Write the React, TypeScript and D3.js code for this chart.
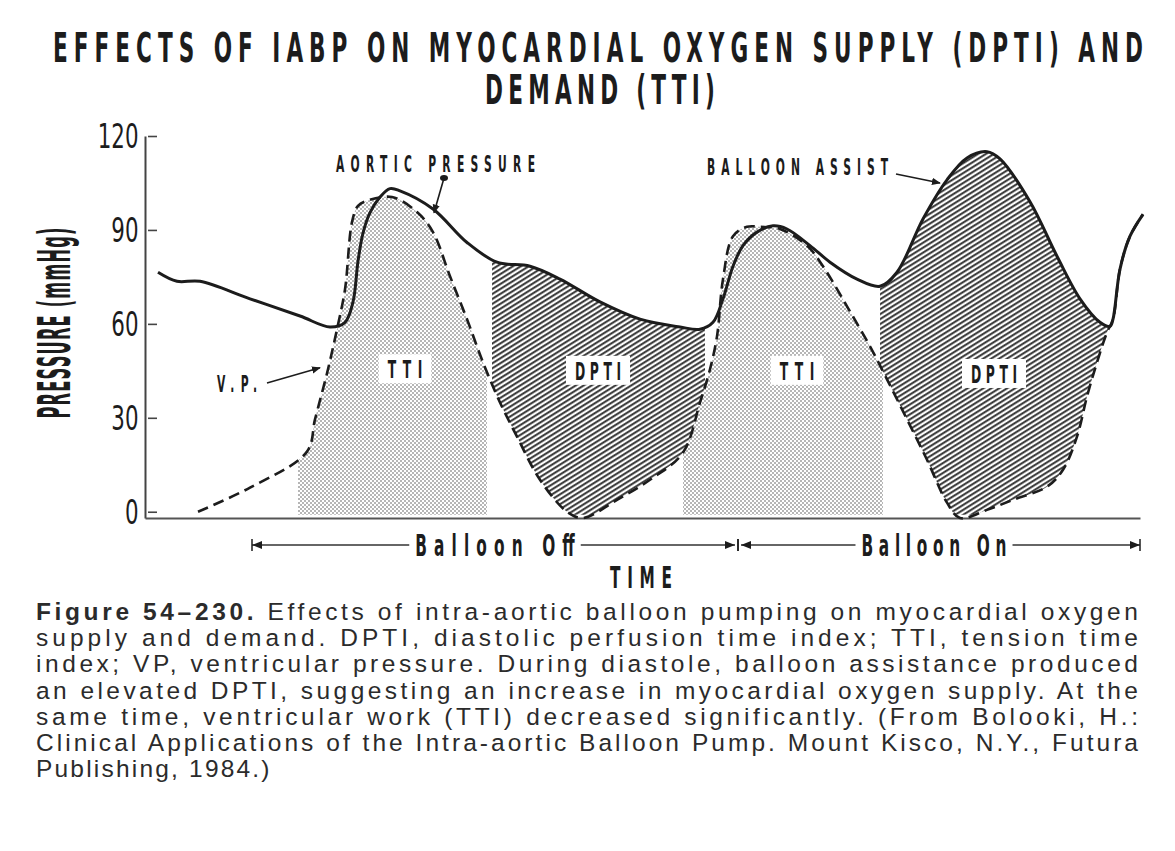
import * as d3 from 'd3';
import { useEffect, useRef } from 'react';

// time in arbitrary units across the trace, pressure in mmHg
const aorticPressure: [number, number][] = [
    [1.3, 76.5], [3.2, 73.6], [5.5, 73.6], [10.5, 68], [15.5, 62.5], [18.5, 59], [20.0, 60.5],
    [20.8, 67], [21.3, 80], [21.8, 89], [22.5, 95.5], [23.5, 100.5], [24.5, 103.2], [25.5, 102.5],
    [28.8, 96.7], [32.2, 86], [35.2, 79.7], [38.5, 78.4], [41.5, 74.3], [45.5, 67], [49.5, 61.5],
    [53.5, 59], [55.5, 58.3], [56.8, 60.5], [57.8, 68], [58.8, 78.4], [59.8, 85], [61.2, 89.3],
    [62.8, 91.3], [64.2, 90.3], [66.5, 85], [68.5, 79.7], [71.2, 74.3], [73.5, 72], [75.2, 76.5],
    [77.8, 93.5], [80.2, 106], [82.2, 113], [84.2, 115], [85.5, 112.7], [88.5, 99], [91.2, 81.6],
    [93.5, 68], [95.5, 60.5], [96.5, 59.2], [96.8, 61.5], [97.5, 77.5], [98.5, 88], [99.8, 95]
];

const ventricularPressure: [number, number][] = [
    [5.3, 0], [10.5, 7.7], [16.2, 19.2], [17.0, 29.5], [18.3, 45.5], [19.2, 58.3], [20.0, 71],
    [20.7, 92.5], [21.3, 97.7], [22.2, 99.3], [24.7, 100.5], [27.2, 95.7], [28.8, 89.3], [30.5, 75.2],
    [32.2, 61.5], [33.8, 47.7], [35.5, 34.9], [37.2, 24], [39.5, 10.2], [42.2, 0], [43.8, -2],
    [47.2, 3.8], [50.5, 10.2], [53.8, 18.9], [55.5, 34.9], [56.5, 45.5], [57.2, 56], [57.8, 74.3],
    [58.8, 88], [60.2, 91], [61.5, 91], [63.5, 90.3], [66.2, 85], [67.8, 78.4], [70.2, 65.6],
    [72.5, 52.8], [74.2, 42.3], [76.2, 29.5], [78.2, 16.6], [80.2, 2.9], [81.5, -2], [84.2, 0.6],
    [86.8, 3.8], [90.2, 8], [91.8, 13.4], [93.2, 24], [94.2, 36.8], [95.2, 47.7], [96.2, 57.3],
    [96.8, 61.5], [97.5, 77.5], [98.5, 88], [99.8, 95]
];

// shaded intervals [start, end]
const ttiSpans: [number, number][] = [[15.3, 34.2], [53.8, 73.8]];
const dptiSpans: [number, number][] = [[34.7, 56.0], [73.5, 96.8]];

const regionLabels = [
    { text: 'TTI', t: 26.0, p: 45.5 },
    { text: 'DPTI', t: 45.3, p: 45 },
    { text: 'TTI', t: 65.2, p: 45 },
    { text: 'DPTI', t: 84.9, p: 44 }
];

const periods = [
    { label: 'Balloon Off', start: 10.7, end: 59.3 },
    { label: 'Balloon On', start: 59.3, end: 99.5 }
];

const pressureTicks = [0, 30, 60, 90, 120];

const titleLines = ['EFFECTS OF IABP ON MYOCARDIAL OXYGEN SUPPLY (DPTI) AND', 'DEMAND (TTI)'];

const captionLines = [
    'Effects of intra-aortic balloon pumping on myocardial oxygen',
    'supply and demand. DPTI, diastolic perfusion time index; TTI, tension time',
    'index; VP, ventricular pressure. During diastole, balloon assistance produced',
    'an elevated DPTI, suggesting an increase in myocardial oxygen supply. At the',
    'same time, ventricular work (TTI) decreased significantly. (From Bolooki, H.:',
    'Clinical Applications of the Intra-aortic Balloon Pump. Mount Kisco, N.Y., Futura',
    'Publishing, 1984.)'
];

const INK = '#1c1c1c';
const COND = "'Liberation Sans Narrow','DejaVu Sans Condensed',sans-serif";

const Cond = ({ x, y, text, size, sx, width, anchor = 'start', weight = 'bold', rotate = 0 }: any) => (
    <text
        transform={`translate(${x},${y}) rotate(${rotate}) scale(${sx},1)`}
        fontSize={size}
        fontWeight={weight}
        fontFamily={COND}
        textAnchor={anchor}
        textLength={width ? width / sx : undefined}
        lengthAdjust="spacing"
        fill={INK}
    >{text}</text>
);

export default function App() {
    const yAxisRef = useRef<any>();
    const xAxisRef = useRef<any>();

    const width = 1175;
    const height = 851;

    const x = d3.scaleLinear().domain([0, 99.5]).range([145, 1140]);
    const y = d3.scaleLinear().domain([-2, 120]).range([518, 136]);

    const curve = d3.curveCatmullRom.alpha(0.5);
    const line = d3.line<[number, number]>().x(d => x(d[0])).y(d => y(d[1])).curve(curve);
    const areaUnder = d3.area<[number, number]>().x(d => x(d[0])).y0(y(-1)).y1(d => y(d[1])).curve(curve);
    const areaAbove = d3.area<[number, number]>().x(d => x(d[0])).y0(0).y1(d => y(d[1])).curve(curve);

    useEffect(() => {
        const ya = d3.select(yAxisRef.current);
        ya.call(d3.axisLeft(y).tickValues(pressureTicks).tickSize(-12).tickSizeOuter(0).tickPadding(9).tickFormat(d3.format('d')) as any);
        ya.select('.domain').attr('stroke', '#444').attr('stroke-width', 2);
        ya.selectAll('.tick line').attr('x1', 3).attr('stroke', '#444').attr('stroke-width', 1.6);
        ya.selectAll('.tick text')
            .attr('font-family', COND)
            .attr('font-size', 33)
            .attr('fill', INK)
            .attr('dy', '0.36em')
            .attr('transform', 'scale(0.72,1)');

        const xa = d3.select(xAxisRef.current);
        xa.call(d3.axisBottom(x).tickValues([]).tickSizeOuter(0) as any);
        xa.select('.domain').attr('stroke', '#555').attr('stroke-width', 2);
    }, []);

    const captionTop = 620;
    const captionStep = 26.2;

    return (
        <svg width={width} height={height} style={{ position: 'absolute', left: 0, top: 0, background: '#fff' }}>
            <defs>
                <pattern id="dots" width="4" height="4" patternUnits="userSpaceOnUse">
                    <rect width="4" height="4" fill="#fff" />
                    <circle cx="1" cy="1" r="0.8" fill="#5a5a5a" />
                    <circle cx="3" cy="3" r="0.8" fill="#5a5a5a" />
                </pattern>
                <pattern id="hatch" width="8" height="4.2" patternUnits="userSpaceOnUse" patternTransform="rotate(-32)">
                    <rect width="8" height="4.2" fill="#fff" />
                    <line x1="0" y1="2" x2="8" y2="2" stroke="#2a2a2a" strokeWidth="1.9" />
                </pattern>
                <clipPath id="above-vp"><path d={areaAbove(ventricularPressure) || ''} /></clipPath>
                {ttiSpans.map((s, i) => (
                    <clipPath id={`tti-${i}`} key={i}>
                        <rect x={x(s[0])} y={0} width={x(s[1]) - x(s[0])} height={height} />
                    </clipPath>
                ))}
                {dptiSpans.map((s, i) => (
                    <clipPath id={`dpti-${i}`} key={i}>
                        <rect x={x(s[0])} y={0} width={x(s[1]) - x(s[0])} height={height} />
                    </clipPath>
                ))}
                <marker id="arrow" viewBox="0 0 10 10" refX="9" refY="5" markerWidth="9" markerHeight="9" markerUnits="userSpaceOnUse" orient="auto">
                    <path d="M0,1 L10,5 L0,9 Z" fill={INK} />
                </marker>
            </defs>

            {/* title */}
            <Cond x={53} y={62} text={titleLines[0]} size={40} sx={0.6} width={1090} />
            <Cond x={485} y={104} text={titleLines[1]} size={40} sx={0.6} width={230} />

            {/* shaded regions */}
            {ttiSpans.map((s, i) => (
                <g key={'t' + i} clipPath={`url(#tti-${i})`}>
                    <path d={areaUnder(ventricularPressure) || ''} fill="url(#dots)" />
                </g>
            ))}
            {dptiSpans.map((s, i) => (
                <g key={'d' + i} clipPath={`url(#dpti-${i})`}>
                    <g clipPath="url(#above-vp)">
                        <path d={areaUnder(aorticPressure) || ''} fill="url(#hatch)" />
                    </g>
                </g>
            ))}

            {/* axes */}
            <g ref={yAxisRef} transform={`translate(${x(0)},0)`} />
            <g ref={xAxisRef} transform={`translate(0,${y(-2)})`} />

            {/* traces */}
            <path d={line(ventricularPressure) || ''} fill="none" stroke={INK} strokeWidth={2.6} strokeDasharray="11 6" />
            <path d={line(aorticPressure) || ''} fill="none" stroke={INK} strokeWidth={3} />

            {/* region labels */}
            {regionLabels.map((l, i) => {
                const w = l.text.length * 11.5;
                return (
                    <g key={i}>
                        <rect x={x(l.t) - w / 2 - 9} y={y(l.p) - 15} width={w + 18} height={29} fill="#fff" />
                        <Cond x={x(l.t)} y={y(l.p) + 9} text={l.text} size={25} sx={0.55} width={w} anchor="middle" />
                    </g>
                );
            })}

            {/* annotations */}
            <Cond x={336} y={172} text="AORTIC PRESSURE" size={23} sx={0.52} width={199} />
            <ellipse cx={444} cy={178} rx={4} ry={3} fill={INK} />
            <line x1={444} y1={178} x2={x(28.9)} y2={y(95.5)} stroke={INK} strokeWidth={1.6} markerEnd="url(#arrow)" />

            <Cond x={707} y={175} text="BALLOON ASSIST" size={23} sx={0.52} width={181} />
            <line x1={896} y1={174} x2={x(79.5)} y2={y(105)} stroke={INK} strokeWidth={1.6} markerEnd="url(#arrow)" />

            <Cond x={217} y={392} text="V.P." size={23} sx={0.52} width={40} />
            <line x1={267} y1={383} x2={x(17.5)} y2={y(46)} stroke={INK} strokeWidth={1.6} markerEnd="url(#arrow)" />

            {/* balloon periods */}
            {periods.map((p, i) => {
                const x0 = x(p.start) + (i === 0 ? 0 : 3);
                const x1 = x(p.end) - (i === 0 ? 3 : 0);
                const cx = (x(p.start) + x(p.end)) / 2 + (i === 0 ? 0 : -5);
                const tw = p.label.length * 14.5;
                const yy = 545;
                return (
                    <g key={i}>
                        <line x1={x0} y1={yy} x2={x1} y2={yy} stroke="#333" strokeWidth={1.5} />
                        <path d={`M${x0 + 10},${yy - 4} L${x0},${yy} L${x0 + 10},${yy + 4} Z`} fill={INK} />
                        <path d={`M${x1 - 10},${yy - 4} L${x1},${yy} L${x1 - 10},${yy + 4} Z`} fill={INK} />
                        <line x1={x(p.start)} y1={yy - 6} x2={x(p.start)} y2={yy + 6} stroke={INK} strokeWidth={1.5} />
                        <line x1={x(p.end)} y1={yy - 6} x2={x(p.end)} y2={yy + 6} stroke={INK} strokeWidth={1.5} />
                        <rect x={cx - tw / 2 - 6} y={yy - 16} width={tw + 12} height={32} fill="#fff" />
                        <Cond x={cx} y={yy + 11} text={p.label} size={31} sx={0.55} width={tw} anchor="middle" />
                    </g>
                );
            })}
            <Cond x={641} y={588} text="TIME" size={31} sx={0.55} width={62} anchor="middle" />

            {/* y label */}
            <Cond x={70} y={323} text="PRESSURE (mmHg)" size={45} sx={0.4} width={191} anchor="middle" rotate={-90} />

            {/* caption */}
            <g fontFamily="'Liberation Sans', Arial, sans-serif" fontSize={24.5} fill="#2b2b2b">
                {captionLines.map((c, i) => (
                    <text key={i} x={36} y={captionTop + i * captionStep}
                        textLength={i < captionLines.length - 1 ? 1102 : undefined} lengthAdjust="spacing"
                        letterSpacing={i === captionLines.length - 1 ? 2.2 : undefined}>
                        {i === 0 && <tspan fontWeight="bold">Figure 54–230. </tspan>}
                        {c}
                    </text>
                ))}
            </g>
        </svg>
    );
}
